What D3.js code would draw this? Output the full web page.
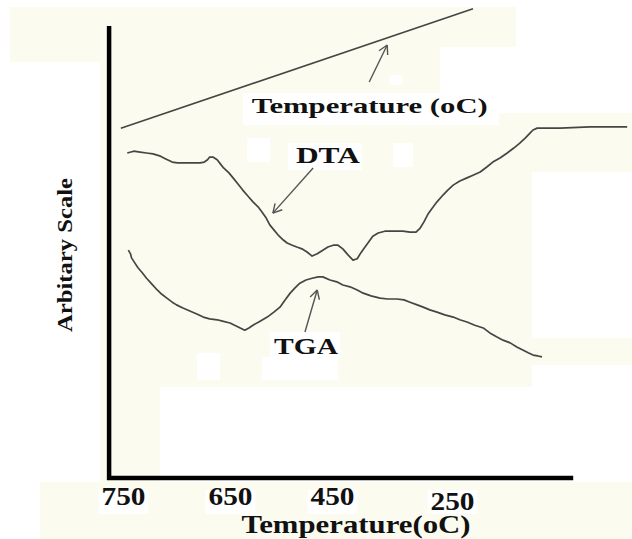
<!DOCTYPE html>
<html><head><meta charset="utf-8">
<script src="https://cdn.jsdelivr.net/npm/d3@7"></script>
<style>body{margin:0;background:#fff}svg{display:block}</style>
</head><body><svg id="c" width="632" height="539"></svg>
<script>
// ---- data (x = temperature °C, y = arbitrary scale 0-100) ----
const tempTicks = [750, 650, 450, 250];
const tempLine = [[752, 77.4], [215, 103.8]];
const dta = [[746,71.9],[740,72.3],[734,72.1],[728,71.9],[722,71.7],[715,71.2],[710,70.6],[704,69.9],[699,69.7],[687,69.7],[678,69.7],[674,69.9],[671,70.4],[669,71.0],[666,71.0],[662,70.4],[659,69.5],[656,68.6],[651,67.5],[644,66.4],[634,65.0],[625,63.7],[615,62.4],[605,61.1],[595,60.0],[587,58.8],[579,57.5],[572,56.0],[564,54.9],[556,53.8],[546,52.7],[538,52.0],[528,51.5],[519,51.1],[509,50.7],[499,50.0],[489,49.1],[479,49.6],[468,50.4],[458,51.1],[448,51.5],[440,51.5],[432,50.7],[423,49.3],[415,48.2],[408,48.5],[402,49.8],[395,51.1],[388,52.4],[382,53.5],[373,54.2],[362,54.6],[348,54.6],[332,54.6],[320,54.4],[310,54.4],[303,55.3],[297,56.6],[290,58.4],[283,59.7],[275,61.1],[265,62.6],[257,63.7],[248,64.8],[237,65.7],[225,66.4],[215,67.0],[203,67.7],[192,68.8],[182,69.9],[170,70.8],[158,71.9],[147,73.0],[137,74.1],[128,75.2],[120,76.3],[115,77.0],[108,77.4],[70,77.4],[20,77.7],[-42,77.7]];
const tga = [[745,50.4],[743,49.6],[742,48.7],[739,47.6],[736,46.5],[732,45.4],[728,44.2],[723,42.9],[718,41.6],[714,40.7],[709,39.8],[704,38.9],[700,38.3],[694,37.6],[687,36.9],[681,36.3],[675,35.6],[669,35.2],[662,35.0],[657,34.7],[650,34.3],[634,33.4],[621,32.7],[613,33.2],[605,33.8],[591,34.7],[577,35.6],[564,36.7],[552,37.8],[542,39.4],[532,40.9],[523,42.0],[513,43.1],[501,43.8],[489,44.2],[477,44.5],[468,44.5],[454,43.8],[442,43.4],[432,42.7],[420,42.3],[408,41.6],[398,40.9],[385,40.3],[370,39.8],[357,39.6],[342,39.6],[330,39.4],[320,38.9],[308,38.3],[298,37.8],[287,37.2],[275,36.7],[262,36.1],[248,35.6],[237,35.0],[225,34.5],[212,33.8],[198,33.2],[187,32.1],[175,31.2],[165,30.5],[153,29.9],[142,29.0],[132,28.3],[123,27.7],[115,27.2],[107,27.0],[100,26.8]];
// annotation arrows: [tail, head]
const arrowTemp = [[388, 87.6], [358, 95.8]];
const arrowDTA = [[487, 68.6], [566, 58.6]];
const arrowTGA = [[503, 32.3], [479, 41.6]];
// labels: [text, T, v]
const labelTemp = ["Temperature (oC)", 387, 80.8];
const labelDTA = ["DTA", 458, 69.7];
const labelTGA = ["TGA", 501, 27.4];
const xTitle = "Temperature(oC)";
const yTitle = "Arbitary Scale";
const axisExtentX = [763, 48];
const axisExtentY = [0, 100];

// ---- scales ----
const x = d3.scaleLinear().domain(tempTicks).range([123, 230, 332, 452]);
const y = d3.scaleLinear().domain([0, 100]).range([478, 26]);

const svg = d3.select("#c");
const cream = "#fbfbef";
// scanned-paper background patches
const bg = svg.append("g");
[[10,7,506,40],[10,47,90,15],[100,47,340,340],[440,113,92,274],[498,113,134,59],[482,338,150,27],[100,387,60,95],[40,482,592,57]]
  .forEach(r => bg.append("rect").attr("x", r[0]).attr("y", r[1]).attr("width", r[2]).attr("height", r[3]).attr("fill", cream));
[[243,93,256,32],[288,143,74,27],[270,332,70,25],[247,138,23,24],[390,75,12,10],[393,143,20,24],[197,353,23,27],[262,357,76,23]]
  .forEach(r => bg.append("rect").attr("x", r[0]).attr("y", r[1]).attr("width", r[2]).attr("height", r[3]).attr("fill", "#fff"));

const ink = "#454545";
const line = d3.line().x(d => x(d[0])).y(d => y(d[1]));

svg.append("path").datum(tempLine).attr("d", line).attr("fill", "none").attr("stroke", ink).attr("stroke-width", 1.6);
svg.append("path").datum(dta).attr("d", line).attr("fill", "none").attr("stroke", ink).attr("stroke-width", 1.7).attr("stroke-linejoin", "round");
svg.append("path").datum(tga).attr("d", line).attr("fill", "none").attr("stroke", ink).attr("stroke-width", 1.7).attr("stroke-linejoin", "round");

function arrow(a) {
  const x0 = x(a[0][0]), y0 = y(a[0][1]), x1 = x(a[1][0]), y1 = y(a[1][1]);
  const ang = Math.atan2(y1 - y0, x1 - x0);
  const g = svg.append("g").attr("stroke", "#555").attr("stroke-width", 1.4).attr("fill", "none");
  g.append("line").attr("x1", x0).attr("y1", y0).attr("x2", x1).attr("y2", y1);
  [-0.5, 0.5].forEach(s => {
    g.append("line").attr("x1", x1).attr("y1", y1)
      .attr("x2", x1 - 10 * Math.cos(ang + s)).attr("y2", y1 - 10 * Math.sin(ang + s));
  });
}
arrow(arrowTemp); arrow(arrowDTA); arrow(arrowTGA);

function label(t, px, py, size, len, extra) {
  const el = svg.append("text").attr("x", px).attr("y", py)
    .attr("text-anchor", "middle").attr("font-family", "Liberation Serif, Times New Roman, serif")
    .attr("font-weight", "bold").attr("font-size", size).attr("fill", "#111")
    .attr("textLength", len).attr("lengthAdjust", "spacingAndGlyphs").text(t);
  if (extra) el.attr("transform", extra);
  return el;
}
label(labelTemp[0], x(labelTemp[1]), y(labelTemp[2]), 22, 236);
label(labelDTA[0], x(labelDTA[1]), y(labelDTA[2]), 24, 64);
label(labelTGA[0], x(labelTGA[1]), y(labelTGA[2]), 23, 64);

// axes
svg.append("line").attr("x1", x(axisExtentX[0])).attr("x2", x(axisExtentX[0]))
  .attr("y1", y(axisExtentY[1])).attr("y2", y(axisExtentY[0]) + 2).attr("stroke", "#000").attr("stroke-width", 4.5);
svg.append("line").attr("x1", x(axisExtentX[0]) - 2).attr("x2", x(axisExtentX[1]))
  .attr("y1", y(0)).attr("y2", y(0)).attr("stroke", "#000").attr("stroke-width", 4.5);

const ax = svg.append("g").attr("transform", `translate(0,${y(0)})`)
  .call(d3.axisBottom(x).tickValues(tempTicks).tickSize(0).tickPadding(22).tickFormat(d3.format("d")));
ax.select(".domain").remove();
ax.selectAll(".tick").insert("rect", "text").attr("x", -25).attr("y", 12).attr("width", 50).attr("height", 24).attr("fill", "#fff");
ax.selectAll("text").attr("font-family", "Liberation Serif, Times New Roman, serif")
  .attr("font-weight", "bold").attr("font-size", 25).attr("fill", "#111")
  .attr("textLength", 44).attr("lengthAdjust", "spacingAndGlyphs")
  .attr("dy", d => d === 250 ? "0.4em" : "0.2em");

label(xTitle, 356, 533, 25, 229);
label(yTitle, 0, 0, 22, 154, "translate(72,255) rotate(-90)");
</script></body></html>
